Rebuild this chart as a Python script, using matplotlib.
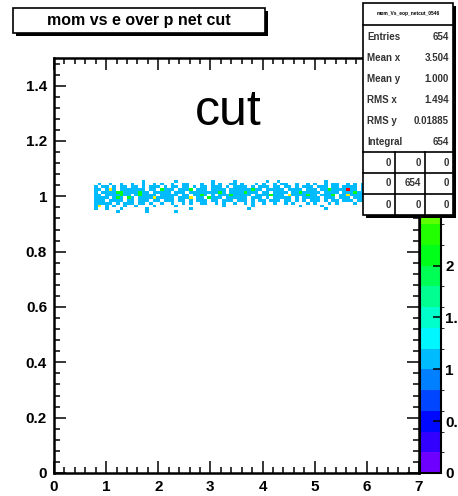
import matplotlib
matplotlib.use("Agg")
import matplotlib.pyplot as plt
import numpy as np
from matplotlib.colors import BoundaryNorm, ListedColormap, hsv_to_rgb
from matplotlib.patches import Rectangle
from matplotlib.ticker import FuncFormatter, MultipleLocator

TITLE = "mom vs e over p net cut"
LABEL = "cut"
HIST_NAME = "mom_Vs_eop_netcut_0546"

# TH2-style binning: 100 bins in momentum (0-7), 150 bins in E/p (0-1.5)
X_RANGE = (0.0, 7.0)
Y_RANGE = (0.0, 1.5)
NBINS_X = 100
NBINS_Y = 150
FIRST_COL = 11   # column of x = 0.77
FIRST_ROW = 94   # row of y = 0.94

# bin contents, one char per bin; first string is the top row (y = 1.05)
ROWS = [
    "..........""...1......""..1.......""..1.....1."".......1..""1.........""...1......"".......1..""....1....",
    ".1..1..1..""1..1..1.1."".1..11...1""..1.1..11.""1...1.1..1"".11..1..1.""1..1.11..1"".1.1..1.1.""1..1.1..1",
    "1.11.1.11.""11.1.111.1"".11.11.1.1""1.111.1.11""11.1.111.1""1.11.1.111"".111.11.11""11.11.1.11""1.11.11.1",
    "11.131.111""1111.11.21""11.1112.11""1.1111.111""111211.111""11.1111.11""1.11211114""11.111.111""1.111.11.",
    "1.11112211""11211.1111""1.111.1111""111121.111""12111.11.1""111.112111""11.1111.11""12111.1111""11.1111.1",
    "11.1111211"".121111.11""111.11.112""1.1.111211""111.111121""11.3111121""1.1112.113""1111.11.11""1.111.111",
    "1111.121.2""1.11113111""11.1113.11"".2111.1111""11.111.1.1""1111.1.111""11.111.111"".111.11.11""11.1.1111",
    "111.1111.1""1.111.11.1""11.11.1.11""1.11.111.1""11.1.11.11""1.11.1.1.1""11.1.11.11""1.11.1.1.1""11.11.1.1",
    "11111.1.11""1.11.1..1."".1..1.1..1""1..1.1..1."".1.1..1..1""..1.1...1.""1...1.1..."".1...1..1.""..1...1..",
    "13.1.1..1."".1....1...""..1......."".....1....""...1......""......1...""..1.......""......1...""........",
    "1..1...1..""....1.....""......1...""..........""..1.......""..........""...1......""..........""........",
    "......1...""....1.....""..1.......""..........""..........""..........""..........""..........""........",
]

STAT_NAMES = ["Entries", "Mean x", "Mean y", "RMS x", "RMS y", "Integral"]
STAT_VALUES = ["654", "3.504", "1.000", "1.494", "0.01885", "654"]
OVERFLOW = [["0", "0", "0"], ["0", "654", "0"], ["0", "0", "0"]]

Z_MAX = 4.0
N_CONTOURS = 20
Z_TICKS = np.arange(0, 2.01, 0.5)

W, H = 458, 496
FONT = "Liberation Sans"


def px_rect(x0, y0, x1, y1):
    """Figure-fraction rectangle from pixel corners (origin top-left)."""
    return [x0 / W, 1 - y1 / H, (x1 - x0) / W, (y1 - y0) / H]


# fill the full histogram array from the character rows
counts = np.zeros((NBINS_Y, NBINS_X))
for r, row in enumerate(ROWS):
    iy = FIRST_ROW + len(ROWS) - 1 - r
    for c, ch in enumerate(row):
        if ch != ".":
            counts[iy, FIRST_COL + c] = int(ch)
counts = np.ma.masked_equal(counts, 0)

x_edges = np.linspace(*X_RANGE, NBINS_X + 1)
y_edges = np.linspace(*Y_RANGE, NBINS_Y + 1)

# rainbow palette, violet -> red, one colour per contour level
steps = np.arange(N_CONTOURS)
hues = (270.0 / 360.0) * (1 - (steps + 0.3) / (N_CONTOURS - 0.7))
palette = hsv_to_rgb(np.column_stack([hues, np.ones(N_CONTOURS), np.ones(N_CONTOURS)]))
cmap = ListedColormap(palette)
levels = np.linspace(0, Z_MAX, N_CONTOURS + 1)
norm = BoundaryNorm(levels, N_CONTOURS, clip=True)

fig = plt.figure(figsize=(W / 100, H / 100), dpi=100)
ax = fig.add_axes(px_rect(54, 58, 419, 473))
cax = fig.add_axes(px_rect(420, 58, 441, 473))

mesh = ax.pcolormesh(x_edges, y_edges, counts, cmap=cmap, norm=norm)
ax.set_xlim(*X_RANGE)
ax.set_ylim(*Y_RANGE)

fmt = FuncFormatter(lambda v, _: f"{v:g}")
ax.xaxis.set_major_locator(MultipleLocator(1))
ax.xaxis.set_minor_locator(MultipleLocator(0.2))
ax.yaxis.set_major_locator(MultipleLocator(0.2))
ax.yaxis.set_minor_locator(MultipleLocator(0.04))
ax.xaxis.set_major_formatter(fmt)
ax.yaxis.set_major_formatter(fmt)
ax.tick_params(which="both", direction="in", top=True, right=True, width=1.1)
ax.tick_params(which="major", length=8.5, labelsize=11, pad=5)
ax.tick_params(which="minor", length=4.5)
for lab in ax.get_xticklabels() + ax.get_yticklabels():
    lab.set_fontweight("bold")
    lab.set_family(FONT)
for sp in ax.spines.values():
    sp.set_linewidth(1.8)

cb = fig.colorbar(mesh, cax=cax, ticks=Z_TICKS)
cb.ax.yaxis.set_major_formatter(fmt)
cb.ax.tick_params(direction="in", length=6, width=1.1, labelsize=11, pad=3)
for lab in cb.ax.get_yticklabels():
    lab.set_fontweight("bold")
    lab.set_family(FONT)
cb.outline.set_linewidth(1.5)

# overlay in pixel coordinates for the title pave, label and stats box
ov = fig.add_axes([0, 0, 1, 1], zorder=10)
ov.set_xlim(0, W)
ov.set_ylim(H, 0)
ov.axis("off")

ov.add_patch(Rectangle((16, 11), 252, 25, facecolor="black", edgecolor="none"))
ov.add_patch(Rectangle((13, 8), 252, 25, facecolor="white", edgecolor="black", lw=1.2))
ov.text(139, 20.5, TITLE, ha="center", va="center", fontsize=11.5,
        fontweight="bold", family=FONT)

ov.text(228, 112, LABEL, ha="center", va="center", fontsize=36, family=FONT)

# stats box
bx0, by0, bx1, by1 = 363, 3, 453, 215
ov.add_patch(Rectangle((bx0 + 3, by0 + 3), bx1 - bx0, by1 - by0,
                       facecolor="black", edgecolor="none"))
ov.add_patch(Rectangle((bx0, by0), bx1 - bx0, by1 - by0,
                       facecolor="white", edgecolor="black", lw=1.2))
ov.plot([bx0, bx1], [25, 25], color="black", lw=1.2)
ov.text((bx0 + bx1) / 2, 14, HIST_NAME, ha="center", va="center",
        fontsize=3.5, fontweight="bold", family=FONT)
for i, (name, val) in enumerate(zip(STAT_NAMES, STAT_VALUES)):
    yy = 37 + i * 21
    ov.text(367, yy, name, ha="left", va="center", fontsize=7,
            fontweight="bold", family=FONT, color="#333333")
    ov.text(449, yy, val, ha="right", va="center", fontsize=7,
            fontweight="bold", family=FONT, color="#333333")

grid_top = 152
row_h = (by1 - grid_top) / 3
col_x = [bx0, 395, 425, bx1]
for j in range(3):
    ov.plot([bx0, bx1], [grid_top + j * row_h] * 2, color="black", lw=1.2)
for xv in col_x[1:3]:
    ov.plot([xv, xv], [grid_top, by1], color="black", lw=1.2)
for j, row in enumerate(OVERFLOW):
    for c, val in enumerate(row):
        ov.text(col_x[c + 1] - 4, grid_top + (j + 0.5) * row_h, val,
                ha="right", va="center", fontsize=7, fontweight="bold",
                family=FONT, color="#333333")

fig.savefig("out.png", dpi=100)
